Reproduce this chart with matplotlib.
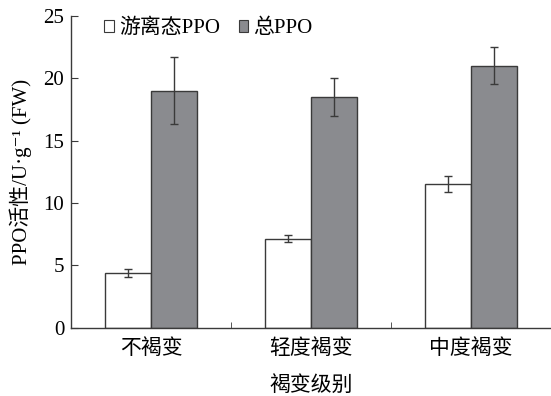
import numpy as np
import matplotlib.pyplot as plt
from matplotlib.patches import Patch

plt.rcParams['font.family'] = ['Liberation Serif', 'Noto Sans CJK SC', 'DejaVu Sans']

# 褐变级别与PPO活性
levels = ['不褐变', '轻度褐变', '中度褐变']
free_ppo = [4.4, 7.15, 11.55]
free_err = [0.3, 0.27, 0.64]
total_ppo = [19.0, 18.5, 21.0]
total_err = [2.7, 1.55, 1.5]

fig = plt.figure(figsize=(5.51, 3.96), dpi=100)
ax = fig.add_axes([0.129, 0.172, 0.871, 0.788])

x = np.arange(len(levels))
w = 0.287
edge = '#3a3a3a'
ax.bar(x - w / 2, free_ppo, w, color='white', edgecolor=edge, linewidth=1.0,
       yerr=free_err, error_kw=dict(ecolor=edge, elinewidth=1.0, capsize=3, capthick=1.0))
ax.bar(x + w / 2, total_ppo, w, color='#8a8b8f', edgecolor=edge, linewidth=1.0,
       yerr=total_err, error_kw=dict(ecolor=edge, elinewidth=1.0, capsize=3, capthick=1.0))

ax.set_xlim(-0.5, 2.5)
ax.set_ylim(0, 25)
ax.set_yticks([0, 5, 10, 15, 20, 25])
ax.set_xticks(x)
ax.set_xticklabels(levels)
ax.set_xticks([0.5, 1.5], minor=True)
ax.tick_params(axis='x', which='major', length=0, pad=8, labelsize=15)
ax.tick_params(axis='x', which='minor', direction='in', length=4, color=edge)
ax.tick_params(axis='y', direction='in', length=5, color=edge, labelsize=15, pad=5)
for s in ['top', 'right']:
    ax.spines[s].set_visible(False)
for s in ['left', 'bottom']:
    ax.spines[s].set_color(edge)
    ax.spines[s].set_linewidth(1.0)

ax.set_xlabel('褐变级别', fontsize=15, labelpad=12)
ax.set_ylabel('PPO活性/U·g⁻¹ (FW)', fontsize=15, labelpad=8)

handles = [Patch(facecolor='white', edgecolor=edge, linewidth=0.8),
           Patch(facecolor='#8a8b8f', edgecolor=edge, linewidth=0.8)]
ax.legend(handles, ['游离态PPO', '总PPO'], ncol=2, frameon=False,
          loc='upper left', bbox_to_anchor=(0.03, 1.05), fontsize=15,
          handlelength=0.45, handleheight=0.45, handletextpad=0.25, columnspacing=0.9)

fig.savefig('out.png', dpi=100)
